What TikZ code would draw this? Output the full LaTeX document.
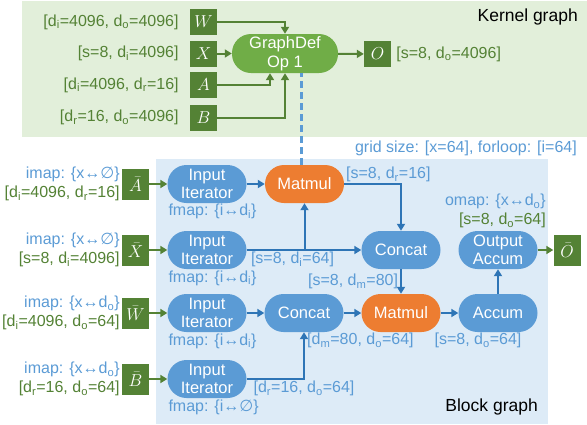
\documentclass[tikz,border=0pt]{standalone}
\usepackage{fontspec}
\setmainfont{Liberation Sans}
\newfontfamily\symfont{DejaVu Sans}
\usetikzlibrary{arrows.meta,positioning}
\definecolor{kgreen}{HTML}{548235}
\definecolor{lgreen}{HTML}{70AD47}
\definecolor{kback}{HTML}{E2EFDA}
\definecolor{bback}{HTML}{DDEBF7}
\definecolor{bnode}{HTML}{5B9BD5}
\definecolor{barrow}{HTML}{2E75B6}
\definecolor{onode}{HTML}{ED7D31}
\newcommand{\dsub}[1]{d\textsubscript{#1}}
\newcommand{\emptyv}{{\symfont ∅}}
\newcommand{\lr}{↔}

\begin{document}
\begin{tikzpicture}[x=1pt,y=-1pt,font=\fontsize{16}{19}\selectfont,
  tens/.style={fill=kgreen,text=white,minimum width=27pt,inner sep=0pt},
  ktens/.style={tens,minimum height=26pt},
  btens/.style={tens,minimum height=31pt},
  op/.style={rounded corners=19pt,text=white,minimum width=79pt,minimum height=38pt,inner sep=0pt,align=center,font=\fontsize{16.5}{18.5}\selectfont},
  bop/.style={op,fill=bnode},
  mop/.style={op,fill=onode},
  glabel/.style={text=kgreen,inner sep=1pt},
  blabel/.style={text=bnode,inner sep=1pt},
  lbl/.style={inner sep=0pt,align=right},
  title/.style={inner sep=0pt,font=\fontsize{17.5}{20}\selectfont},
  garrow/.style={draw=kgreen,line width=2pt,-{Triangle[length=7pt,width=8pt]}},
  barr/.style={draw=barrow,line width=2pt,-{Triangle[length=7pt,width=8pt]}}]
\useasboundingbox (0,0) rectangle (587,424);
\fill [kback] (22,1) rectangle (587,137);
\fill [bback] (156,159) rectangle (548,424);

\node (KTITLE) [title,anchor=east] at (578,17) {Kernel graph};
\node (W) [ktens] at (203.5,22) {$W$};
\node (X) [ktens] at (203.5,53.5) {$X$};
\node (A) [ktens] at (203.5,85) {$A$};
\node (B) [ktens] at (203.5,117.5) {$B$};
\node (GDEF) [op,fill=lgreen,minimum width=106pt,minimum height=39pt] at (285,53.5) {GraphDef\\Op 1};
\node (O) [ktens] at (377.5,54) {$O$};
\node (WLBL) [glabel,left=10pt of W] {[\dsub{i}=4096, \dsub{o}=4096]};
\node (XLBL) [glabel,left=10pt of X] {[s=8, \dsub{i}=4096]};
\node (ALBL) [glabel,left=10pt of A] {[\dsub{i}=4096, \dsub{r}=16]};
\node (BLBL) [glabel,left=10pt of B] {[\dsub{r}=16, \dsub{o}=4096]};
\node (OLBL) [glabel,right=4pt of O] {[s=8, \dsub{o}=4096]};
\draw [garrow] (W) -| (GDEF);
\draw [garrow] (X) -- (GDEF);
\draw [garrow] (A) -| ([xshift=-15pt]GDEF.south);
\draw [garrow] (B) -| (GDEF);
\draw [garrow] (GDEF) -- (O);

\node (GRID) [blabel,anchor=east] at (578,148) {grid size: [x=64], forloop: [i=64]};
\node (BTITLE) [title,anchor=east] at (538,407) {Block graph};
\node (ABAR) [btens] at (135.5,184) {$\bar{A}$};
\node (XBAR) [btens] at (135.5,250) {$\bar{X}$};
\node (WBAR) [btens] at (135.5,313) {$\bar{W}$};
\node (BBAR) [btens] at (135.5,379) {$\bar{B}$};
\node (OBAR) [btens] at (567,250) {$\bar{O}$};
\node (II1) [bop] at (207,184) {Input\\Iterator};
\node (II2) [bop] at (207,250) {Input\\Iterator};
\node (II3) [bop] at (207,313) {Input\\Iterator};
\node (II4) [bop] at (207,379) {Input\\Iterator};
\node (MM1) [mop] at (304.5,184) {Matmul};
\node (CC1) [bop] at (401,250) {Concat};
\node (OA) [bop] at (498,250) {Output\\Accum};
\node (CC2) [bop] at (304,313) {Concat};
\node (MM2) [mop] at (401,313) {Matmul};
\node (AC) [bop] at (498,313) {Accum};

\node (AMAP) [lbl,left=2pt of ABAR] {\textcolor{bnode}{imap: \{x\lr\emptyv\}}\\\textcolor{kgreen}{[\dsub{i}=4096, \dsub{r}=16]}};
\node (XMAP) [lbl,left=2pt of XBAR] {\textcolor{bnode}{imap: \{x\lr\emptyv\}}\\\textcolor{kgreen}{[s=8, \dsub{i}=4096]}};
\node (WMAP) [lbl,left=2pt of WBAR] {\textcolor{bnode}{imap: \{x\lr\dsub{o}\}}\\\textcolor{kgreen}{[\dsub{i}=4096, \dsub{o}=64]}};
\node (BMAP) [lbl,left=2pt of BBAR] {\textcolor{bnode}{imap: \{x\lr\dsub{o}\}}\\\textcolor{kgreen}{[\dsub{r}=16, \dsub{o}=64]}};
\node (OMAP) [lbl,anchor=south east] at (546,228) {\textcolor{bnode}{omap: \{x\lr\dsub{o}\}}\\\textcolor{kgreen}{[s=8, \dsub{o}=64]}};
\node (F1) [blabel,anchor=north west] at (II1.south west) {fmap: \{i\lr\dsub{i}\}};
\node (F2) [blabel,anchor=north west] at (II2.south west) {fmap: \{i\lr\dsub{i}\}};
\node (F3) [blabel,anchor=north west] at (II3.south west) {fmap: \{i\lr\dsub{i}\}};
\node (F4) [blabel,anchor=north west] at (II4.south west) {fmap: \{i\lr\emptyv\}};

\draw [draw=bnode,line width=3pt,dash pattern=on 7pt off 4pt] ([xshift=-3.5pt]MM1.north) -- ([xshift=-3.5pt]MM1.north |- GDEF.south);
\draw [garrow] (ABAR) -- (II1);
\draw [garrow] (XBAR) -- (II2);
\draw [garrow] (WBAR) -- (II3);
\draw [garrow] (BBAR) -- (II4);
\draw [garrow] (OA) -- (OBAR);
\draw [barr] (II1) -- (MM1);
\draw [barr] (II2) -- node[blabel,pos=0.4,below] {[s=8, \dsub{i}=64]} (CC1);
\draw [barr] (II2 -| MM1) -- (MM1);
\draw [barr] (MM1) -| node[blabel,pos=0,anchor=south west] {[s=8, \dsub{r}=16]} (CC1);
\draw [barr] (CC1) -- node[blabel,midway,left,xshift=-1pt] {[s=8, \dsub{m}=80]} (MM2);
\draw [barr] (II3) -- (CC2);
\draw [barr] (CC2) -- (MM2);
\draw [barr] (MM2) -- (AC);
\draw [barr] (AC) -- (OA);
\draw [barr] (II4) -| node[blabel,pos=0.5,below] {[\dsub{r}=16, \dsub{o}=64]} (CC2);
\node (DMLBL) [blabel,anchor=north west] at (306,332) {[\dsub{m}=80, \dsub{o}=64]};
\node (ACLBL) [blabel,anchor=north] at (478,332) {[s=8, \dsub{o}=64]};
\end{tikzpicture}
\end{document}
